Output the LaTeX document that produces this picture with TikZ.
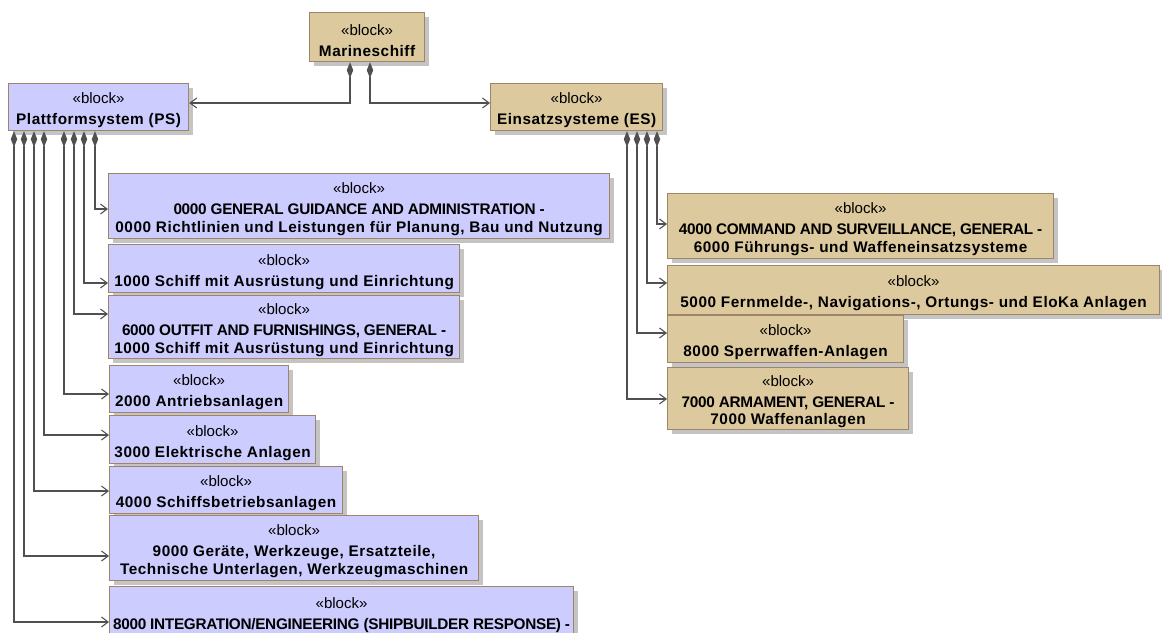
\documentclass[tikz,border=0pt]{standalone}
\usepackage{fontspec}
\setmainfont{Liberation Sans}
\newfontfamily\namefont[LetterSpace=3.5]{Liberation Sans}
\newfontfamily\capsfont[LetterSpace=-2]{Liberation Sans}
\usetikzlibrary{arrows.meta,calc,shadows}

\definecolor{tanfill}{HTML}{DCC99E}
\definecolor{lavfill}{HTML}{CCCCFF}
\definecolor{edgebrown}{HTML}{9E8468}
\definecolor{lineg}{HTML}{505050}
\definecolor{shadowg}{HTML}{C4C4C4}

% stereotype line above each block name (the strut lowers the text block a little)
\newcommand{\stereo}{{\normalfont\fontsize{11.3pt}{13pt}\selectfont\rule{0pt}{13pt}«block»}}
% upper-case name lines are set tighter
\newcommand{\up}[1]{{\capsfont\bfseries #1}}

\tikzset{
  blockbox/.style={draw=edgebrown, line width=0.9pt, inner sep=0pt,
    anchor=north west, align=center,
    font=\namefont\bfseries\fontsize{11.5pt}{13pt}\selectfont,
    drop shadow={shadow xshift=3pt, shadow yshift=-3pt, fill=shadowg,
      opacity=1, draw=none}},
  tanbox/.style={blockbox, fill=tanfill},
  lavbox/.style={blockbox, fill=lavfill},
  sz/.style 2 args={minimum width=#1*0.75pt, minimum height=#2*0.75pt},
  conn/.style={draw=lineg, line width=0.8pt,
    arrows={Diamond[length=12pt,width=4.8pt,fill=lineg]-Straight Barb[length=5pt,width=7.5pt]}},
}

\begin{document}
\begin{tikzpicture}[x=0.75pt, y=-0.75pt]
\useasboundingbox (0,0) rectangle (1162,632);
\fill[white] (0,0) rectangle (1162,632);
\clip (0,0) rectangle (1162,632);

% top level
\node[tanbox, sz={115}{49}] (ms) at (309,12) {\stereo\\[2.75pt]Marineschiff};
\node[lavbox, sz={180}{47}] (ps) at (8,83) {\stereo\\[2.75pt]Plattformsystem (PS)};
\node[tanbox, sz={172}{47}] (es) at (490,83) {\stereo\\[2.75pt]Einsatzsysteme (ES)};

% platform system parts
\node[lavbox, sz={501}{65}] (p0) at (108,173)
  {\stereo\\[2.75pt]\up{0000 GENERAL GUIDANCE AND ADMINISTRATION -}\\0000 Richtlinien und Leistungen für Planung, Bau und Nutzung};
\node[lavbox, sz={351}{48}] (p1) at (108,244)
  {\stereo\\[2.75pt]1000 Schiff mit Ausrüstung und Einrichtung};
\node[lavbox, sz={351}{63}] (p6) at (108,295)
  {\stereo\\[2.75pt]\up{6000 OUTFIT AND FURNISHINGS, GENERAL -}\\1000 Schiff mit Ausrüstung und Einrichtung};
\node[lavbox, sz={179}{47}] (p2) at (109,365)
  {\stereo\\[2.75pt]2000 Antriebsanlagen};
\node[lavbox, sz={206}{48}] (p3) at (109,415)
  {\stereo\\[2.75pt]3000 Elektrische Anlagen};
\node[lavbox, sz={233}{47}] (p4) at (109,466)
  {\stereo\\[2.75pt]4000 Schiffsbetriebsanlagen};
\node[lavbox, sz={369}{65}] (p9) at (109,515)
  {\stereo\\[2.75pt]9000 Geräte, Werkzeuge, Ersatzteile,\\Technische Unterlagen, Werkzeugmaschinen};
\node[lavbox, sz={464}{51}] (p8) at (109,586)
  {\stereo\\[2.75pt]\up{8000 INTEGRATION/ENGINEERING (SHIPBUILDER RESPONSE) -}};

% mission system parts
\node[tanbox, sz={386}{65}] (e4) at (667,193)
  {\stereo\\[2.75pt]\up{4000 COMMAND AND SURVEILLANCE, GENERAL -}\\6000 Führungs- und Waffeneinsatzsysteme};
\node[tanbox, sz={492}{49}] (e5) at (667,265)
  {\stereo\\[2.75pt]5000 Fernmelde-, Navigations-, Ortungs- und EloKa Anlagen};
\node[tanbox, sz={236}{47}] (e8) at (667,315)
  {\stereo\\[2.75pt]8000 Sperrwaffen-Anlagen};
\node[tanbox, sz={241}{62}] (e7) at (667,367)
  {\stereo\\[2.75pt]\up{7000 ARMAMENT, GENERAL -}\\7000 Waffenanlagen};

% composition links
\draw[conn] ($(ms.south west)+(41,0)$) |- ($(ps.north east)+(0,20)$);
\draw[conn] ($(ms.south west)+(61,0)$) |- ($(es.north west)+(0,20)$);

\draw[conn] ($(ps.south west)+(87,0)$) |- ($(p0.north west)+(0,36)$);
\draw[conn] ($(ps.south west)+(76,0)$) |- ($(p1.north west)+(0,39)$);
\draw[conn] ($(ps.south west)+(66,0)$) |- ($(p6.north west)+(0,19)$);
\draw[conn] ($(ps.south west)+(56,0)$) |- ($(p2.north west)+(0,29)$);
\draw[conn] ($(ps.south west)+(36,0)$) |- ($(p3.north west)+(0,20)$);
\draw[conn] ($(ps.south west)+(26,0)$) |- ($(p4.north west)+(0,25)$);
\draw[conn] ($(ps.south west)+(16,0)$) |- ($(p9.north west)+(0,41)$);
\draw[conn] ($(ps.south west)+(6,0)$) |- ($(p8.north west)+(0,36)$);

\draw[conn] ($(es.south west)+(167,0)$) |- ($(e4.north west)+(0,31)$);
\draw[conn] ($(es.south west)+(157,0)$) |- ($(e5.north west)+(0,18)$);
\draw[conn] ($(es.south west)+(147,0)$) |- ($(e8.north west)+(0,18)$);
\draw[conn] ($(es.south west)+(137,0)$) |- ($(e7.north west)+(0,32)$);
\end{tikzpicture}
\end{document}
